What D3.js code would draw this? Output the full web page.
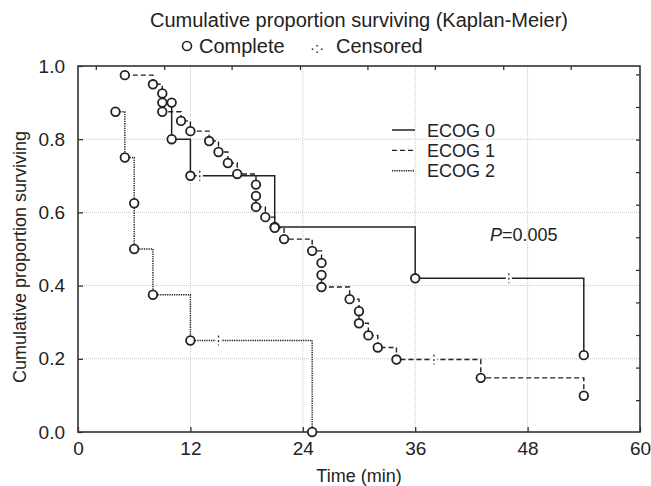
<!DOCTYPE html>
<html><head><meta charset="utf-8">
<script src="https://cdn.jsdelivr.net/npm/d3@7"></script>
<style>body{margin:0;background:#fff}svg{display:block}text{font-family:"Liberation Sans",Arial,sans-serif;fill:#222}</style>
</head><body><div id="chart"></div>
<script>
// ---- data ----
const groups = ["ECOG 0", "ECOG 1", "ECOG 2"];
const ecog0Time = [10, 10, 12, 21, 36, 54];
const ecog0Surv = [0.9, 0.8, 0.7, 0.56, 0.42, 0.21];
const ecog0Cens = [13, 46];
const ecog1Time = [5, 8, 9, 9, 9, 11, 12, 14, 15, 16, 17, 19, 19, 19, 20, 21, 22, 25, 26, 26, 26, 29, 30, 30, 31, 32, 34, 43, 54];
const ecog1Surv = [0.975, 0.95, 0.925, 0.9, 0.875, 0.85, 0.822, 0.795, 0.765, 0.735, 0.705, 0.676, 0.645, 0.615, 0.587, 0.558, 0.527, 0.495, 0.462, 0.429, 0.396, 0.363, 0.33, 0.297, 0.264, 0.231, 0.198, 0.148, 0.099];
const ecog1Cens = [38];
const ecog2Time = [4, 5, 6, 6, 8, 12, 25];
const ecog2Surv = [0.875, 0.75, 0.625, 0.5, 0.375, 0.25, 0];
const ecog2Cens = [15];
const xTicks = [0, 12, 24, 36, 48, 60];
const yTicks = [0, 0.2, 0.4, 0.6, 0.8, 1.0];
const topTicks = [1.9, 9.2, 16.4, 23.7, 30.9, 38.1, 45.4, 52.6];
const rightTicks = [0.087, 0.176, 0.265, 0.354, 0.443, 0.532, 0.621, 0.71, 0.799, 0.888, 0.977];
const titleText = "Cumulative proportion surviving (Kaplan-Meier)";
const xLabel = "Time (min)";
const yLabel = "Cumulative proportion surviving";
const pText = "=0.005";

// ---- layout ----
const W = 651, H = 486;
const m = {l: 78, r: 11, t: 66, b: 54};
const svg = d3.select("#chart").append("svg").attr("width", W).attr("height", H);
const x = d3.scaleLinear().domain([0, 60]).range([m.l, W - m.r]);
const y = d3.scaleLinear().domain([0, 1]).range([H - m.b, m.t]);
const ink = "#222";

// grid
const g = svg.append("g");
g.selectAll("line.vg").data(xTicks.slice(1, -1)).join("line")
  .attr("x1", d => x(d)).attr("x2", d => x(d)).attr("y1", y(0)).attr("y2", y(1))
  .attr("stroke", "#c8c8c8").attr("stroke-width", 1).attr("stroke-dasharray", "1,1");
g.selectAll("line.hg").data(yTicks.slice(1, -1)).join("line")
  .attr("y1", d => y(d)).attr("y2", d => y(d)).attr("x1", x(0)).attr("x2", x(60))
  .attr("stroke", "#c8c8c8").attr("stroke-width", 1).attr("stroke-dasharray", "1,1");

// axes
const fs = 18;
const xAxis = svg.append("g").attr("transform", `translate(0,${y(0)})`)
  .call(d3.axisBottom(x).tickValues(xTicks).tickFormat(d3.format("d")).tickSizeInner(-5).tickSizeOuter(0).tickPadding(10));
const yAxis = svg.append("g").attr("transform", `translate(${x(0)},0)`)
  .call(d3.axisLeft(y).tickValues(yTicks).tickFormat(d3.format(".1f")).tickSizeInner(-5).tickSizeOuter(0).tickPadding(13));
const tAxis = svg.append("g").attr("transform", `translate(0,${y(1)})`)
  .call(d3.axisTop(x).tickValues(topTicks).tickFormat("").tickSizeInner(-4).tickSizeOuter(0));
const rAxis = svg.append("g").attr("transform", `translate(${x(60)},0)`)
  .call(d3.axisRight(y).tickValues(rightTicks).tickFormat("").tickSizeInner(-4).tickSizeOuter(0));
[xAxis, yAxis, tAxis, rAxis].forEach(a => {
  a.select(".domain").remove();
  a.selectAll(".tick line").attr("stroke", ink).attr("stroke-width", 1.2);
  a.selectAll(".tick text").attr("font-size", 19).attr("fill", ink)
    .style("font-family", '"Liberation Sans",Arial,sans-serif');
});
// frame
svg.append("rect").attr("x", x(0)).attr("y", y(1)).attr("width", x(60) - x(0)).attr("height", y(0) - y(1))
  .attr("fill", "none").attr("stroke", "#333").attr("stroke-width", 1.6);

// curves
const series = [
  {t: ecog0Time, s: ecog0Surv, c: ecog0Cens, dash: null, w: 1.5},
  {t: ecog1Time, s: ecog1Surv, c: ecog1Cens, dash: "5,3", w: 1.4},
  {t: ecog2Time, s: ecog2Surv, c: ecog2Cens, dash: "1.3,1", w: 1.4}
];
function stepPath(ts, ss) {
  let p = `M${x(ts[0])},${y(ss[0])}`;
  for (let i = 1; i < ts.length; i++) p += `H${x(ts[i])}V${y(ss[i])}`;
  return p;
}
function survAt(ts, ss, t) {
  let v = ss[0];
  for (let i = 0; i < ts.length; i++) if (ts[i] <= t) v = ss[i];
  return v;
}
const cg = svg.append("g");
series.forEach(se => {
  cg.append("path").attr("d", stepPath(se.t, se.s)).attr("fill", "none")
    .attr("stroke", ink).attr("stroke-width", se.w).attr("stroke-dasharray", se.dash);
});
// censored marks
series.forEach(se => {
  se.c.forEach(ct => {
    const cx = x(ct), cy = y(survAt(se.t, se.s, ct));
    cg.append("rect").attr("x", cx - 3).attr("y", cy - 2).attr("width", 6).attr("height", 4).attr("fill", "#fff");
    cg.append("line").attr("x1", cx).attr("x2", cx).attr("y1", cy - 5).attr("y2", cy + 5)
      .attr("stroke", ink).attr("stroke-width", 1.2).attr("stroke-dasharray", "2,2.5");
  });
});
// circles
series.forEach(se => {
  cg.selectAll(null).data(se.t.map((t, i) => [t, se.s[i]])).join("circle")
    .attr("cx", d => x(d[0])).attr("cy", d => y(d[1])).attr("r", 4.3)
    .attr("fill", "#fff").attr("stroke", ink).attr("stroke-width", 1.8);
});

// legend for groups
const lg = svg.append("g");
groups.forEach((name, i) => {
  const ly = 130 + i * 20.4;
  lg.append("line").attr("x1", 392).attr("x2", 415).attr("y1", ly).attr("y2", ly)
    .attr("stroke", ink).attr("stroke-width", series[i].w).attr("stroke-dasharray", series[i].dash);
  lg.append("text").attr("x", 427).attr("y", ly + 6.5).attr("font-size", fs).text(name);
});
// P value
const pt = svg.append("text").attr("x", 490).attr("y", 241).attr("font-size", fs);
pt.append("tspan").attr("font-style", "italic").text("P");
pt.append("tspan").text(pText);

// title and marker legend
svg.append("text").attr("x", 359).attr("y", 27).attr("text-anchor", "middle").attr("font-size", 20).text(titleText);
const ml = svg.append("g");
ml.append("circle").attr("cx", 187).attr("cy", 46).attr("r", 4.5).attr("fill", "#fff").attr("stroke", ink).attr("stroke-width", 1.6);
ml.append("text").attr("x", 199).attr("y", 53).attr("font-size", 20).text("Complete");
ml.append("text").attr("x", 310).attr("y", 53).attr("font-size", 15).text("\u00B7:\u00B7");
ml.append("text").attr("x", 336).attr("y", 53).attr("font-size", 20).text("Censored");

// axis titles
svg.append("text").attr("x", 359).attr("y", 482).attr("text-anchor", "middle").attr("font-size", fs).text(xLabel);
svg.append("text").attr("transform", `translate(26,${(y(0) + y(1)) / 2 + 8}) rotate(-90)`).attr("text-anchor", "middle")
  .attr("font-size", fs).text(yLabel);
</script></body></html>
